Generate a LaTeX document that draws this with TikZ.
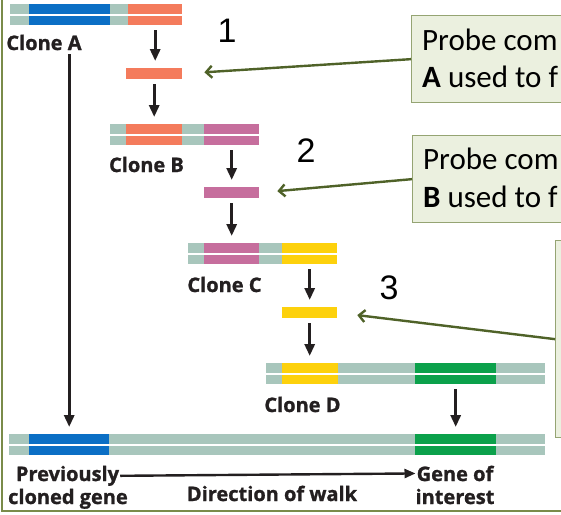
\documentclass[tikz,border=0pt]{standalone}
\usepackage{fontspec}
\setmainfont{Carlito}
\newfontfamily\labelfont[BoldFeatures={FakeBold=1.2}]{Open Sans}
\newfontfamily\handfont{Liberation Sans}
\usetikzlibrary{arrows.meta,positioning}
\definecolor{dnagrey}{HTML}{A8C6BC}
\definecolor{genblue}{HTML}{0B6FC5}
\definecolor{probesalmon}{HTML}{F47B5C}
\definecolor{probepink}{HTML}{C66E9D}
\definecolor{probeyellow}{HTML}{FDD10C}
\definecolor{gengreen}{HTML}{0BA14B}
\definecolor{notefill}{HTML}{EBF0DF}
\definecolor{noteline}{HTML}{95A473}
\definecolor{noteolive}{HTML}{4F6228}
\definecolor{frameolive}{HTML}{7A8B4A}
\definecolor{inkdark}{HTML}{231F20}
\tikzset{
  strand/.style={rectangle,inner sep=0,minimum height=21pt,fill=dnagrey,anchor=north west},
  seg/.style={rectangle,inner sep=0,minimum height=21pt,anchor=north west},
  probe/.style={rectangle,inner sep=0,minimum height=11pt,anchor=north west},
  down/.style={-{Triangle[length=12pt,width=10pt]},draw=inkdark,line width=3pt,shorten <=5pt,shorten >=7pt},
  walk/.style={-{Triangle[length=11pt,width=9pt]},draw=inkdark,line width=2.4pt},
  clonelabel/.style={font=\labelfont\bfseries\fontsize{20}{24}\selectfont,text=inkdark,inner sep=1pt,anchor=base},
  note/.style={rectangle,draw=noteline,fill=notefill,line width=1.3pt,anchor=north west},
  notetext/.style={font=\fontsize{31}{36}\selectfont,text=black,inner sep=0,anchor=base west},
  pointer/.style={-{Straight Barb[length=6pt,width=12pt]},draw=noteolive,line width=2.4pt},
  hand/.style={font=\handfont\fontsize{34}{34}\selectfont,text=black,inner sep=0},
}

\begin{document}
\begin{tikzpicture}[x=1pt,y=-1pt]
  \useasboundingbox (0,0) rectangle (561,514);
  \draw[frameolive,line width=1.3pt] (2,0) -- (2,511) -- (561,511);

  % ---------------- clones (double strands) ----------------
  \foreach \n/\xa/\xb/\yt in {cA/10/182/4, cB/110/259/124, cC/188/337/243, cD/266/545/363, cG/9/545/434}
    \node[strand,minimum width={(\xb-\xa)*1pt}] (\n) at (\xa,\yt) {};
  \foreach \n/\xa/\xb/\yt/\c in {aBlue/29/110/4/genblue, aSal/128/182/4/probesalmon,
      bSal/126/182/124/probesalmon, bPink/204/259/124/probepink,
      cPink/204/259/243/probepink, cYel/282/337/243/probeyellow,
      dYel/282/338/363/probeyellow, dGrn/415/496/363/gengreen,
      gBlue/29/109/434/genblue, gGrn/415/496/434/gengreen}
    \node[seg,fill=\c,minimum width={(\xb-\xa)*1pt}] (\n) at (\xa,\yt) {};
  \foreach \n in {cA,cB,cC,cD,cG}
    \draw[white,line width=1.6pt] (\n.west) -- (\n.east);

  % ---------------- probes ----------------
  \node[probe,fill=probesalmon,minimum width=56pt] (pA) at (126,68) {};
  \node[probe,fill=probepink,minimum width=55pt] (pB) at (204,187) {};
  \node[probe,fill=probeyellow,minimum width=55pt] (pC) at (282,307) {};

  % labels
  \node[clonelabel] (labA) at (44,50) {Clone A};
  \node[clonelabel] (labB) at (146.5,172) {Clone B};
  \node[clonelabel] (labC) at (224.5,292) {Clone C};
  \node[clonelabel] (labD) at (302.5,412) {Clone D};
  \node[clonelabel] (prevA) at (67.5,481) {Previously};
  \node[clonelabel] (prevB) at (68,504) {cloned gene};
  \node[clonelabel] (geneA) at (455,481) {Gene of};
  \node[clonelabel] (geneB) at (455,504) {interest};
  \node[clonelabel] (walkL) at (272,501) {Direction of walk};

  % ---------------- the walk ----------------
  \draw[down] (aSal.south) -- (aSal.south |- pA.north);
  \draw[down] (pA.south) -- (pA.south |- cB.north);
  \draw[down] (bPink.south) -- (bPink.south |- pB.north);
  \draw[down] (pB.south) -- (pB.south |- cC.north);
  \draw[down] (cYel.south) -- (cYel.south |- pC.north);
  \draw[down] (pC.south) -- (pC.south |- cD.north);
  \draw[down] (dGrn.south) -- (dGrn.south |- cG.north);
  \draw[down,shorten <=3pt] (gBlue.north |- labA.south) -- (gBlue.north);
  \draw[walk] (prevA.east) -- (geneA.west);

  % ---------------- callouts ----------------
  \node[note,minimum width=200pt,minimum height=87pt] (n1) at (411,15) {};
  \node[notetext] (n1a) at (422,50) {Probe com};
  \node[notetext] (n1b) at (422,87) {\textbf{A} used to f};
  \node[note,minimum width=200pt,minimum height=87pt] (n2) at (412,135) {};
  \node[notetext] (n2a) at (423,169) {Probe com};
  \node[notetext] (n2b) at (423,207) {\textbf{B} used to f};
  \node[note,minimum width=60pt,minimum height=197pt] (n3) at (555,240) {};
  \draw[pointer,shorten >=22pt] (n1.west) -- (pA.east);
  \draw[pointer,shorten >=18pt] (n2.west) -- (pB.east);
  \draw[pointer,shorten >=20pt] (n3.west) -- (pC.east);

  % handwritten step numbers
  \node[hand] (h1) at (227,31) {1};
  \node[hand] (h2) at (306,151) {2};
  \node[hand] (h3) at (389,288) {3};
\end{tikzpicture}
\end{document}
